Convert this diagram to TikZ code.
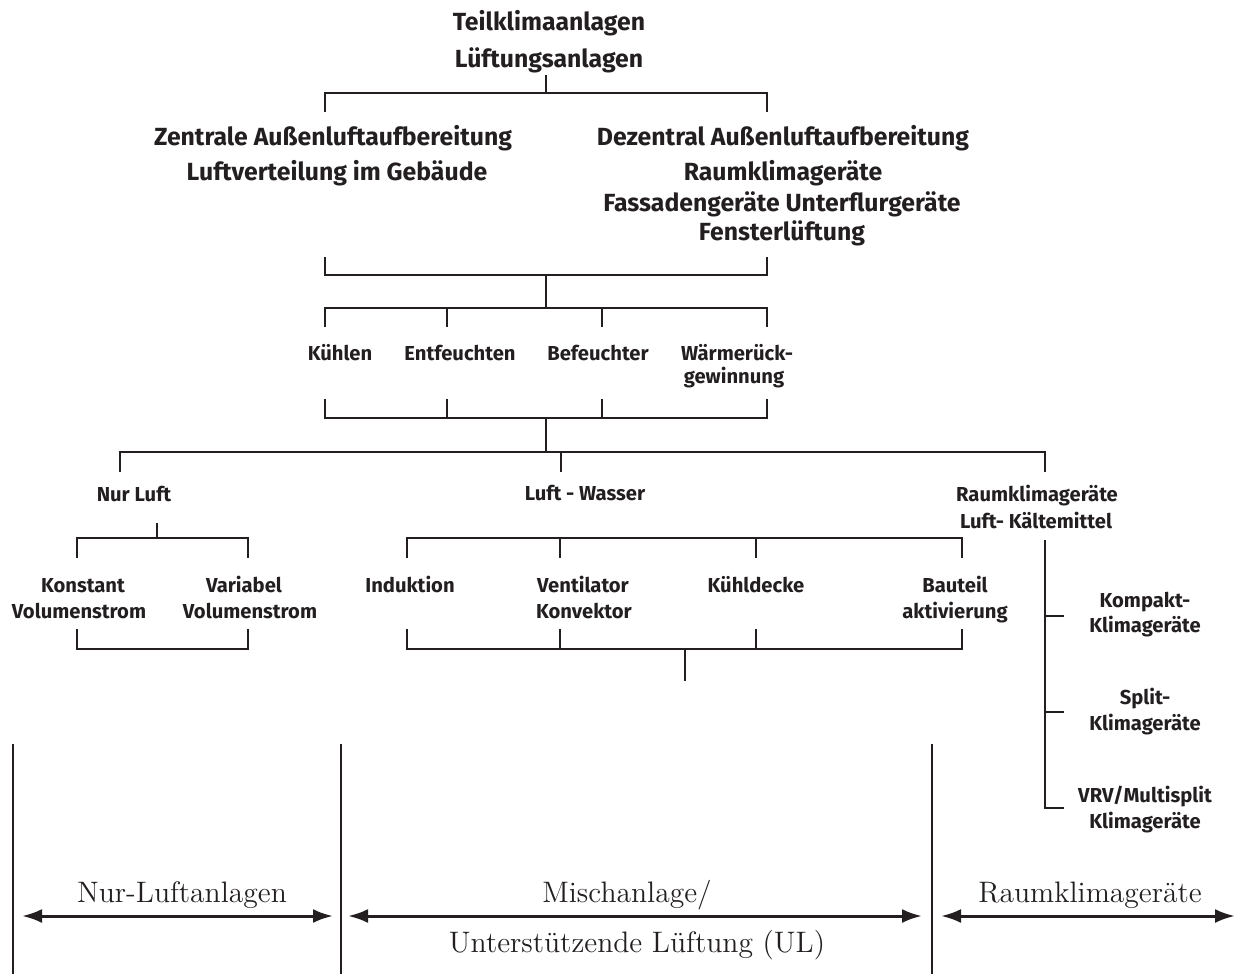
\documentclass[tikz,border=0pt]{standalone}
\usepackage{fontspec}
\newfontfamily\lblfont{Fira Sans}
\usetikzlibrary{arrows.meta}
\definecolor{ink}{RGB}{35,31,32}
\tikzset{
  toplabel/.style={font=\lblfont\bfseries\fontsize{12.4}{14}\selectfont, text=ink, anchor=base, inner sep=0pt},
  itemlabel/.style={font=\lblfont\bfseries\fontsize{10.1}{12}\selectfont, text=ink, anchor=base, inner sep=0pt},
  zonelabel/.style={font=\fontsize{14.8}{17}\selectfont, text=ink, anchor=base, inner sep=0pt},
  bar/.style={draw=ink, line width=1.25pt, line join=miter},
  zoneline/.style={draw=ink, line width=1pt},
  zonearrow/.style={draw=ink, line width=1.5pt, {Latex[length=10pt,width=7pt]}-{Latex[length=10pt,width=7pt]}}
}
\begin{document}
\begin{tikzpicture}[x=0.5pt, y=-0.5pt]
				\useasboundingbox (0,0) rectangle (1240,974);

				% Top
				\node[toplabel] (teil) at (549,31) {Teilklimaanlagen};
				\node[toplabel] (lueft) at (549,68) {Lüftungsanlagen};
				\draw[bar] (546,75) -- (546,93);
				\draw[bar] (325,112) -- (325,93) -- (767,93) -- (767,112);
				\node[toplabel] (zentral) at (333,145) {Zentrale Außenluftaufbereitung};
				\node[toplabel] (vert) at (337,180) {Luftverteilung im Gebäude};
				\node[toplabel] (dezentral) at (783,145) {Dezentral Außenluftaufbereitung};
				\node[toplabel] (raum) at (783,180) {Raumklimageräte};
				\node[toplabel] (fassade) at (782,211) {Fassadengeräte Unterflurgeräte};
				\node[toplabel] (fenster) at (782,240) {Fensterlüftung};
				\draw[bar] (325,257) -- (325,275) -- (767,275) -- (767,257);
				\draw[bar] (546,275) -- (546,308);

				% Functions
				\draw[bar] (325,327) -- (325,308) -- (767,308) -- (767,327);
				\draw[bar] (447,308) -- (447,327);
				\draw[bar] (602,308) -- (602,327);
				\node[itemlabel] (kuehlen) at (340,360) {Kühlen};
				\node[itemlabel] (entf) at (460,360) {Entfeuchten};
				\node[itemlabel] (befeucht) at (598,360) {Befeuchter};
				\node[itemlabel] (waerme) at (737,360) {Wärmerück-};
				\node[itemlabel] (gewinn) at (734,383) {gewinnung};
				\draw[bar] (325,399) -- (325,418) -- (767,418) -- (767,399);
				\draw[bar] (447,399) -- (447,418);
				\draw[bar] (602,399) -- (602,418);
				\draw[bar] (546,418) -- (546,452);

				% Systems
				\draw[bar] (120,472) -- (120,452) -- (1045,452) -- (1045,472);
				\draw[bar] (561,452) -- (561,472);
				\node[itemlabel] (nurluft) at (134,501) {Nur Luft};
				\node[itemlabel] (luftwasser) at (585,500) {Luft - Wasser};
				\node[itemlabel] (raumkl) at (1037,501) {Raumklimageräte};
				\node[itemlabel] (kaelte) at (1036,528) {Luft- Kältemittel};

				% Nur Luft
				\draw[bar] (157,523) -- (157,538);
				\draw[bar] (77,558) -- (77,538) -- (248,538) -- (248,558);
				\node[itemlabel] (konst) at (83,592) {Konstant};
				\node[itemlabel] (konstvol) at (79,618) {Volumenstrom};
				\node[itemlabel] (vari) at (244,592) {Variabel};
				\node[itemlabel] (varivol) at (250,618) {Volumenstrom};
				\draw[bar] (77,629) -- (77,649) -- (248,649) -- (248,629);

				% Luft - Wasser
				\draw[bar] (407,558) -- (407,538) -- (962,538) -- (962,558);
				\draw[bar] (560,538) -- (560,558);
				\draw[bar] (756,538) -- (756,558);
				\node[itemlabel] (induk) at (410,592) {Induktion};
				\node[itemlabel] (venti) at (583,592) {Ventilator};
				\node[itemlabel] (konv) at (584,618) {Konvektor};
				\node[itemlabel] (decke) at (756,592) {Kühldecke};
				\node[itemlabel] (bauteil) at (955,592) {Bauteil};
				\node[itemlabel] (aktiv) at (955,618) {aktivierung};
				\draw[bar] (407,629) -- (407,649) -- (962,649) -- (962,629);
				\draw[bar] (560,629) -- (560,649);
				\draw[bar] (756,629) -- (756,649);
				\draw[bar] (685,649) -- (685,681);

				% Raumklimageraete
				\draw[bar] (1045,540) -- (1045,808) -- (1064,808);
				\draw[bar] (1045,616) -- (1064,616);
				\draw[bar] (1045,712) -- (1064,712);
				\node[itemlabel] (kompakt) at (1145,607) {Kompakt-};
				\node[itemlabel] (kompaktkl) at (1145,632) {Klimageräte};
				\node[itemlabel] (split) at (1145,704) {Split-};
				\node[itemlabel] (splitkl) at (1145,730) {Klimageräte};
				\node[itemlabel] (vrv) at (1145,802) {VRV/Multisplit};
				\node[itemlabel] (vrvkl) at (1145,828) {Klimageräte};

				% Zones
				\draw[zoneline] (13,744) -- (13,974);
				\draw[zoneline] (341,744) -- (341,974);
				\draw[zoneline] (932,744) -- (932,974);
				\draw[zonearrow] (22,916) -- (333,916);
				\draw[zonearrow] (348,916) -- (922,916);
				\draw[zonearrow] (941,916) -- (1235,916);
				\node[zonelabel] (nurlanl) at (182,902) {Nur-Luftanlagen};
				\node[zonelabel] (misch) at (627,902) {Mischanlage/};
				\node[zonelabel] (ul) at (637,952) {Unterstützende Lüftung (UL)};
				\node[zonelabel] (raumgr) at (1090,902) {Raumklimageräte};
			\end{tikzpicture}
\end{document}
